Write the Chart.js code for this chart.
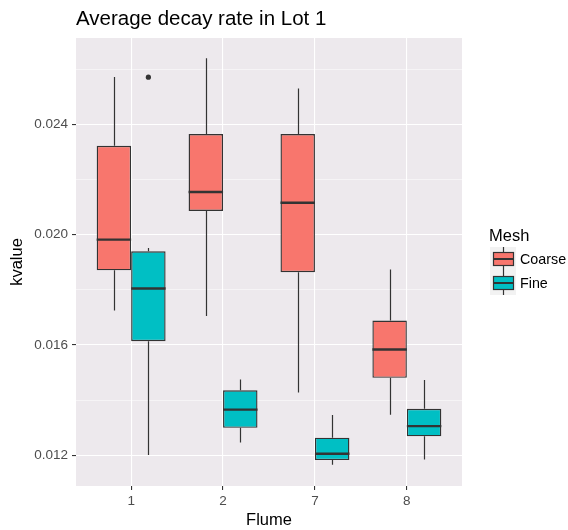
<!DOCTYPE html>
<html>
<head>
<meta charset="utf-8">
<script src="https://cdn.jsdelivr.net/npm/chart.js@4"></script>
<style>
  html, body { margin: 0; padding: 0; background: #fff; }
  #wrap { width: 568px; height: 530px; }
</style>
</head>
<body>
<div id="wrap"><canvas id="decay" width="568" height="530"></canvas></div>
<script>
// flume categories and box stats
const flumes = ['1', '2', '7', '8'];
const coarseLow  = [0.01725, 0.01705, 0.01428, 0.01347];
const coarseQ1   = [0.01871, 0.02086, 0.01864, 0.01481];
const coarseMed  = [0.01982, 0.02155, 0.02116, 0.01584];
const coarseQ3   = [0.02322, 0.02365, 0.02365, 0.01689];
const coarseHigh = [0.02572, 0.02640, 0.02530, 0.01874];
const coarseOut  = [[], [], [], []];

const fineLow  = [0.01201, 0.01247, 0.01166, 0.01185];
const fineQ1   = [0.01614, 0.01300, 0.01183, 0.01269];
const fineMed  = [0.01805, 0.01366, 0.01206, 0.01306];
const fineQ3   = [0.01940, 0.01436, 0.01264, 0.01369];
const fineHigh = [0.01952, 0.01475, 0.01346, 0.01473];
const fineOut  = [[0.02571], [], [], []];

const yTicks = [0.012, 0.014, 0.016, 0.018, 0.020, 0.022, 0.024, 0.026];
const yMajor = [0.012, 0.016, 0.020, 0.024];

const FONT = "'Liberation Sans', Arial, sans-serif";
const coarseCol = '#F8766D';
const fineCol = '#00BFC4';
const lineCol = '#333333';

const stats = [
  { low: coarseLow, q1: coarseQ1, med: coarseMed, q3: coarseQ3, high: coarseHigh, out: coarseOut },
  { low: fineLow, q1: fineQ1, med: fineMed, q3: fineQ3, high: fineHigh, out: fineOut }
];

const isMajor = v => yMajor.some(m => Math.abs(m - v) < 1e-9);

const boxPlugin = {
  id: 'boxbits',
  beforeDraw(chart) {
    const { ctx, chartArea: a } = chart;
    ctx.save();
    ctx.fillStyle = '#EDE9ED';
    ctx.fillRect(a.left, a.top, a.right - a.left, a.bottom - a.top);
    ctx.restore();
  },
  beforeDatasetsDraw(chart) {
    const { ctx } = chart;
    const y = chart.scales.y;
    ctx.save();
    ctx.strokeStyle = lineCol;
    ctx.lineWidth = 1.2;
    stats.forEach((s, di) => {
      chart.getDatasetMeta(di).data.forEach((bar, i) => {
        const x = Math.round(bar.x) + 0.5;
        ctx.beginPath();
        ctx.moveTo(x, y.getPixelForValue(s.high[i]));
        ctx.lineTo(x, y.getPixelForValue(s.q3[i]));
        ctx.moveTo(x, y.getPixelForValue(s.q1[i]));
        ctx.lineTo(x, y.getPixelForValue(s.low[i]));
        ctx.stroke();
      });
    });
    ctx.restore();
  },
  afterDatasetsDraw(chart) {
    const { ctx } = chart;
    const y = chart.scales.y;
    ctx.save();
    stats.forEach((s, di) => {
      chart.getDatasetMeta(di).data.forEach((bar, i) => {
        const py = y.getPixelForValue(s.med[i]);
        ctx.strokeStyle = lineCol;
        ctx.lineWidth = 2.4;
        ctx.beginPath();
        ctx.moveTo(bar.x - bar.width / 2, py);
        ctx.lineTo(bar.x + bar.width / 2, py);
        ctx.stroke();
        ctx.fillStyle = lineCol;
        s.out[i].forEach(v => {
          ctx.beginPath();
          ctx.arc(bar.x, y.getPixelForValue(v), 2.6, 0, Math.PI * 2);
          ctx.fill();
        });
      });
    });
    ctx.restore();
  },
  afterDraw(chart) {
    const { ctx } = chart;
    ctx.save();
    // title
    ctx.fillStyle = '#000';
    ctx.font = '20.5px ' + FONT;
    ctx.textBaseline = 'alphabetic';
    ctx.fillText('Average decay rate in Lot 1', 76, 25);
    // legend
    ctx.font = '16.5px ' + FONT;
    ctx.fillText('Mesh', 489, 241);
    const keys = [['Coarse', coarseCol, 247], ['Fine', fineCol, 271]];
    ctx.font = '14.3px ' + FONT;
    keys.forEach(([name, col, top]) => {
      ctx.fillStyle = '#F2F2F2';
      ctx.fillRect(490, top, 26, 24);
      ctx.strokeStyle = lineCol;
      ctx.lineWidth = 1.2;
      ctx.beginPath();
      ctx.moveTo(503.5, top);
      ctx.lineTo(503.5, top + 24);
      ctx.stroke();
      ctx.fillStyle = col;
      ctx.fillRect(493, top + 5, 21, 14);
      ctx.strokeRect(493.5, top + 5.5, 20, 13);
      ctx.lineWidth = 2;
      ctx.beginPath();
      ctx.moveTo(493, top + 12);
      ctx.lineTo(514, top + 12);
      ctx.stroke();
      ctx.fillStyle = '#000';
      ctx.textBaseline = 'middle';
      ctx.fillText(name, 520, top + 13);
    });
    ctx.restore();
  }
};

const mkData = s => flumes.map((f, i) => ({ x: i + 1, y: [s.q1[i], s.q3[i]] }));

new Chart(document.getElementById('decay'), {
  type: 'bar',
  data: {
    datasets: [
      {
        label: 'Coarse',
        data: mkData(stats[0]),
        backgroundColor: coarseCol,
        borderColor: lineCol,
        borderWidth: 1.4,
        borderSkipped: false
      },
      {
        label: 'Fine',
        data: mkData(stats[1]),
        backgroundColor: fineCol,
        borderColor: lineCol,
        borderWidth: 1.4,
        borderSkipped: false
      }
    ]
  },
  options: {
    responsive: false,
    animation: false,
    categoryPercentage: 0.75,
    barPercentage: 1,
    layout: { padding: { left: 0, right: 106, top: 38, bottom: 0 } },
    plugins: {
      legend: { display: false },
      tooltip: { enabled: false }
    },
    scales: {
      x: {
        type: 'linear',
        min: 0.4,
        max: 4.6,
        offset: false,
        afterBuildTicks: scale => { scale.ticks = flumes.map((f, i) => ({ value: i + 1 })); },
        afterFit: scale => { scale.height = 44; },
        border: { display: false },
        grid: { offset: false, color: '#FFFFFF', lineWidth: 1.1, tickColor: lineCol, tickLength: 4 },
        ticks: {
          callback: v => flumes[v - 1],
          color: '#4D4D4D',
          font: { family: FONT, size: 13.5 },
          padding: 3,
          maxRotation: 0
        },
        title: { display: true, text: 'Flume', color: '#000', font: { family: FONT, size: 16.5 }, padding: { top: 0, bottom: 0 } }
      },
      y: {
        type: 'linear',
        min: 0.01089,
        max: 0.02713,
        afterBuildTicks: scale => { scale.ticks = yTicks.map(v => ({ value: v })); },
        afterFit: scale => { scale.width = 76; },
        border: { display: false },
        grid: {
          color: '#FFFFFF',
          lineWidth: c => (isMajor(c.tick.value) ? 1.1 : 0.5),
          tickColor: c => (isMajor(c.tick.value) ? lineCol : 'rgba(0,0,0,0)'),
          tickLength: 4
        },
        ticks: {
          callback: v => (isMajor(v) ? v.toFixed(3) : ''),
          color: '#4D4D4D',
          font: { family: FONT, size: 13.5 },
          padding: 4
        },
        title: { display: true, text: 'kvalue', color: '#000', font: { family: FONT, size: 16.5 }, padding: { top: 8, bottom: 0 } }
      }
    }
  },
  plugins: [boxPlugin]
});
</script>
</body>
</html>
